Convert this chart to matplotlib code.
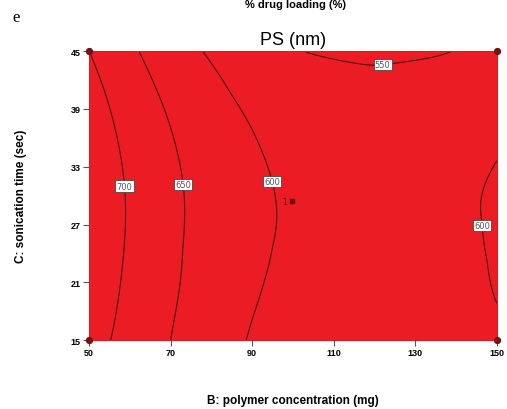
import numpy as np
import matplotlib.pyplot as plt
import matplotlib.tri as mtri

# axis grid (B: polymer concentration, C: sonication time)
b_conc = [50, 60, 70, 80, 90, 100, 110, 120, 130, 140, 150]
c_time = [15, 20, 25, 30, 35, 40, 45]

# PS (nm) estimated off the contour plot, one row per sonication time
ps_c15 = [722.0, 682.0, 650.0, 621.0, 597.0, 581.0, 571.0, 568.0, 570.0, 577.0, 588.0]
ps_c20 = [731.0, 690.0, 656.0, 628.0, 604.0, 589.0, 579.0, 577.0, 579.0, 586.0, 602.0]
ps_c25 = [736.7, 694.8, 659.5, 630.9, 608.8, 593.4, 584.6, 582.4, 585.3, 592.5, 604.0]
ps_c30 = [737.4, 695.5, 660.2, 631.6, 609.5, 594.1, 585.3, 583.1, 586.0, 593.2, 604.7]
ps_c35 = [731.5, 689.6, 654.3, 625.7, 603.6, 588.2, 579.4, 577.2, 580.1, 587.3, 597.5]
ps_c40 = [719.2, 677.3, 642.0, 613.4, 591.3, 575.9, 567.1, 563.5, 567.8, 575.0, 586.5]
ps_c45 = [700.3, 658.4, 623.1, 594.5, 572.4, 553.0, 546.0, 544.0, 545.0, 551.0, 567.6]

levels = [550, 600, 650, 700]
label_pos = [(59, 31), (73.5, 31.2), (96, 31.6), (122, 43.6), (147, 26.9)]

x_ticks = [50, 70, 90, 110, 130, 150]
y_ticks = [15, 21, 27, 33, 39, 45]

B, C = np.meshgrid(b_conc, c_time)
Z = np.array([ps_c15, ps_c20, ps_c25, ps_c30, ps_c35, ps_c40, ps_c45])

# smooth the read grid with matplotlib's own refiner
tri = mtri.Triangulation(B.ravel(), C.ravel())
refiner = mtri.UniformTriRefiner(tri)
tri_f, z_f = refiner.refine_field(Z.ravel(), subdiv=3)

fig = plt.figure(figsize=(5.07, 4.10), dpi=100)
ax = fig.add_axes([0.1755, 0.168, 0.8045, 0.705])

ax.tricontourf(tri_f, z_f, levels=[0, 1000], colors=['#ec1c24'])
cs = ax.tricontour(tri_f, z_f, levels=levels, colors='#4a1010', linewidths=0.8)
lbls = ax.clabel(cs, fmt='%d', fontsize=6, inline=False, manual=label_pos)
for t in lbls:
    t.set_rotation(0)
    t.set_color('#555555')
    t.set_bbox(dict(facecolor='white', edgecolor='#333333', pad=0.8, linewidth=0.5))

# design points on the corners
ax.scatter([50, 50, 150, 150], [15, 45, 15, 45], s=18, color='#7a1010', zorder=5, clip_on=False)
ax.text(97.3, 29.4, '1', fontsize=5.5, color='#5a1010', va='center')
ax.plot([99.8], [29.4], marker='s', ms=2.2, color='#6a1010')

ax.set_xlim(50, 150)
ax.set_ylim(15, 45)
ax.set_xticks(x_ticks)
ax.set_yticks(y_ticks)
for s in ax.spines.values():
    s.set_color('#d81c24')
    s.set_linewidth(0.8)
ax.tick_params(direction='out', length=4, width=0.8, color='#555555', labelsize=6.5, pad=2)
for lab in ax.get_xticklabels() + ax.get_yticklabels():
    lab.set_fontweight('bold')
    lab.set_family('Liberation Sans')

ax.set_xlabel('B: polymer concentration (mg)', fontsize=8.5, fontweight='bold',
              family='Liberation Sans', labelpad=26)
ax.set_ylabel('C: sonication time (sec)', fontsize=8.5, fontweight='bold',
              family='Liberation Sans', labelpad=31)
ax.set_title('PS (nm)', fontsize=13, family='Liberation Sans', pad=5)

fig.text(0.025, 0.957, 'e', fontsize=12, family='Liberation Serif', va='center')
fig.text(0.582, 0.999, '% drug loading (%)', fontsize=8, fontweight='bold',
         family='Liberation Sans', ha='center', va='top')

fig.savefig('out.png', dpi=100)
